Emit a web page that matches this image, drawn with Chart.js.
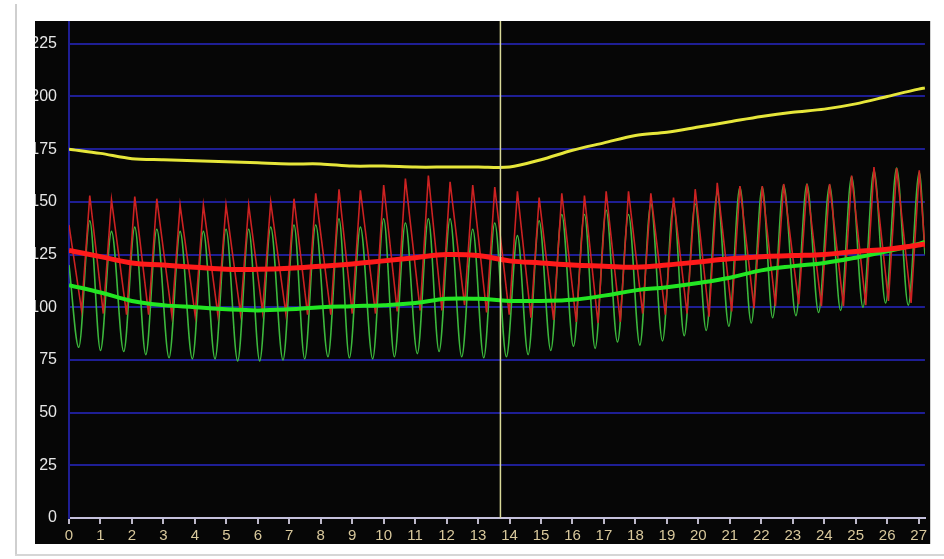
<!DOCTYPE html>
<html>
<head>
<meta charset="utf-8">
<script src="https://cdn.jsdelivr.net/npm/chart.js@4/dist/chart.umd.min.js"></script>
<style>
  html, body { margin: 0; padding: 0; background: #fff; }
  body { width: 944px; height: 559px; position: relative; overflow: hidden; }
  .frame-left { position: absolute; left: 15px; top: 4px; width: 2px; height: 552px; background: #cfcfcf; }
  .frame-bottom { position: absolute; left: 15px; top: 554px; width: 929px; height: 2px; background: #d6d6d6; }
  .panel { position: absolute; left: 35px; top: 21px; width: 895px; height: 523px; background: #060606; border-right: 1px solid #d0d0d0; overflow: hidden; }
  /* canvas is shifted up so the plot top meets the panel top */
  #chart { display: block; position: absolute; left: 0; top: -22px; }
</style>
</head>
<body>
<div class="frame-left"></div>
<div class="frame-bottom"></div>
<div class="panel"><canvas id="chart" width="895" height="545"></canvas></div>
<script>
// smooth trend lines, read at each day
const trendX = [0, 1, 2, 3, 4, 5, 6, 7, 8, 9, 10, 11, 12, 13, 14, 15, 16, 17, 18, 19, 20, 21, 22, 23, 24, 25, 26, 27, 27.2];
const yellowLine = [175, 173, 170.5, 170, 169.5, 169, 168.5, 168, 168, 167, 167, 166.5, 166.5, 166.5, 166.5, 170, 174.5, 178, 181.5, 183, 185.5, 188, 190.5, 192.5, 194, 196.5, 200, 203.5, 204];
const redTrend = [127, 124, 121, 120, 119, 118, 118, 118.5, 119.5, 120.5, 122, 123.5, 125, 124.5, 122, 121, 120, 119.5, 119, 120, 121.5, 123, 124, 124.5, 125, 126.5, 127.5, 129.5, 130];
const greenTrend = [110.5, 107, 103, 101, 100, 99, 98.5, 99, 100, 100.5, 101, 102, 104, 104, 103, 103, 103.5, 105.5, 108, 109.5, 111.5, 114, 117.5, 119.5, 121, 123.5, 126.5, 130, 131];

// oscillating traces: one peak per cycle
const peakX = [0.66, 1.35, 2.09, 2.79, 3.53, 4.27, 4.99, 5.71, 6.41, 7.15, 7.84, 8.58, 9.26, 10.00, 10.69, 11.42, 12.11, 12.83, 13.53, 14.25, 14.94, 15.66, 16.38, 17.07, 17.78, 18.49, 19.21, 19.90, 20.60, 21.32, 22.03, 22.71, 23.45, 24.17, 24.87, 25.58, 26.30, 27.02];
const redPeak = [153, 151, 152.5, 151.5, 148.5, 148.5, 148.5, 148.5, 150, 151.5, 154, 156, 155.5, 158, 161, 162.5, 159.5, 158, 157, 155, 152, 154, 153, 155, 155, 154, 152, 156, 159, 157.5, 157.5, 158.5, 158.5, 158.5, 162.5, 166.5, 166, 165];
const redTroughX = [0.40, 1.09, 1.83, 2.53, 3.27, 4.01, 4.73, 5.45, 6.15, 6.89, 7.58, 8.32, 9.00, 9.74, 10.43, 11.16, 11.85, 12.57, 13.27, 13.99, 14.68, 15.40, 16.12, 16.81, 17.52, 18.23, 18.95, 19.64, 20.34, 21.06, 21.77, 22.45, 23.19, 23.91, 24.61, 25.32, 26.04, 26.76];
const redTrough = [98.5, 97, 96.5, 96.5, 96, 96, 96.5, 97, 98, 97, 96.5, 96.5, 97, 97, 98, 98.5, 98.5, 101, 97.5, 96.5, 95, 94, 93, 92.5, 93, 97, 96.5, 97, 95.5, 98, 99.5, 100.5, 101.5, 100.5, 100.5, 101, 103, 102];
const greenPeak = [141, 136, 138, 137, 136, 136, 137, 137, 138, 139, 139, 142, 138, 142, 140, 142, 142, 137, 140, 134, 141, 144, 144, 146, 144, 149, 149, 149, 154, 157, 157, 158, 158.5, 158, 162, 165, 166, 164];
const greenLowX = [0.31, 1.00, 1.74, 2.44, 3.18, 3.92, 4.64, 5.36, 6.06, 6.80, 7.49, 8.23, 8.91, 9.65, 10.34, 11.07, 11.76, 12.48, 13.18, 13.90, 14.59, 15.31, 16.03, 16.72, 17.43, 18.14, 18.86, 19.55, 20.25, 20.97, 21.68, 22.36, 23.10, 23.82, 24.52, 25.23, 25.95, 26.67];
const greenLow = [81, 79.5, 79, 77.5, 76, 75.5, 75.5, 74.5, 74.5, 75, 75.5, 76.5, 76, 75.5, 76.5, 78, 79, 76.5, 76, 76.5, 77.5, 79.5, 81.5, 80.5, 83.5, 82, 84, 86.5, 89, 91, 92.5, 95, 96, 97.5, 98.5, 100, 102, 101];
const redStart = 139, redEnd = 128;
const greenStart = 120, greenEnd = 125;

const cursorX = 13.71;
const yTicks = [0, 25, 50, 75, 100, 125, 150, 175, 200, 225];

function pts(xs, ys) {
  return xs.map((x, i) => ({ x: x, y: ys[i] }));
}

const redThin = [{ x: 0, y: redStart }];
const greenThin = [{ x: 0, y: greenStart }];
for (let i = 0; i < peakX.length; i++) {
  redThin.push({ x: redTroughX[i], y: redTrough[i] }, { x: peakX[i], y: redPeak[i] });
  greenThin.push({ x: greenLowX[i], y: greenLow[i] }, { x: peakX[i], y: greenPeak[i] });
}
redThin.push({ x: 27.2, y: redEnd });
greenThin.push({ x: 27.2, y: greenEnd });

const sans = "'Liberation Sans', Arial, sans-serif";
const gridBlue = '#1e1e94';

new Chart(document.getElementById('chart'), {
  type: 'line',
  data: {
    datasets: [
      { data: [{ x: cursorX, y: 0 }, { x: cursorX, y: 236 }], borderColor: '#d8d898', borderWidth: 1.5, pointRadius: 0 },
      { data: pts(trendX, yellowLine), borderColor: '#e6e63a', borderWidth: 3, pointRadius: 0, tension: 0.3 },
      { data: pts(trendX, redTrend), borderColor: '#ff1a1a', borderWidth: 5, pointRadius: 0, tension: 0.4 },
      { data: pts(trendX, greenTrend), borderColor: '#22e622', borderWidth: 4, pointRadius: 0, tension: 0.4 },
      { data: redThin, borderColor: '#cc2222', borderWidth: 1.6, pointRadius: 0, tension: 0 },
      { data: greenThin, borderColor: '#3cb83c', borderWidth: 1.6, pointRadius: 0, cubicInterpolationMode: 'monotone' }
    ]
  },
  options: {
    responsive: false,
    devicePixelRatio: 1,
    animation: false,
    layout: { padding: { left: 0, right: 2, top: 0, bottom: 0 } },
    plugins: { legend: { display: false }, tooltip: { enabled: false } },
    scales: {
      x: {
        type: 'linear',
        min: 0,
        max: 27.2,
        afterFit: (s) => { s.height = 26; },
        border: { color: '#c4c0dc', width: 2 },
        grid: {
          color: (c) => (c.tick && c.tick.value === 0 ? gridBlue : 'transparent'),
          lineWidth: 2,
          tickColor: '#bdb8c8',
          tickLength: 6
        },
        ticks: {
          stepSize: 1,
          includeBounds: false,
          autoSkip: false,
          maxRotation: 0,
          padding: 3,
          color: '#d8c89c',
          font: { family: sans, size: 15 }
        }
      },
      y: {
        min: 0,
        max: 236,
        afterFit: (s) => { s.width = 34; },
        afterBuildTicks: (s) => { s.ticks = yTicks.map(v => ({ value: v })); },
        border: { color: gridBlue, width: 2 },
        grid: { color: gridBlue, lineWidth: 2, drawTicks: false },
        ticks: {
          autoSkip: false,
          padding: 12,
          color: '#e6e6e6',
          font: { family: sans, size: 16 }
        }
      }
    }
  }
});
</script>
</body>
</html>
